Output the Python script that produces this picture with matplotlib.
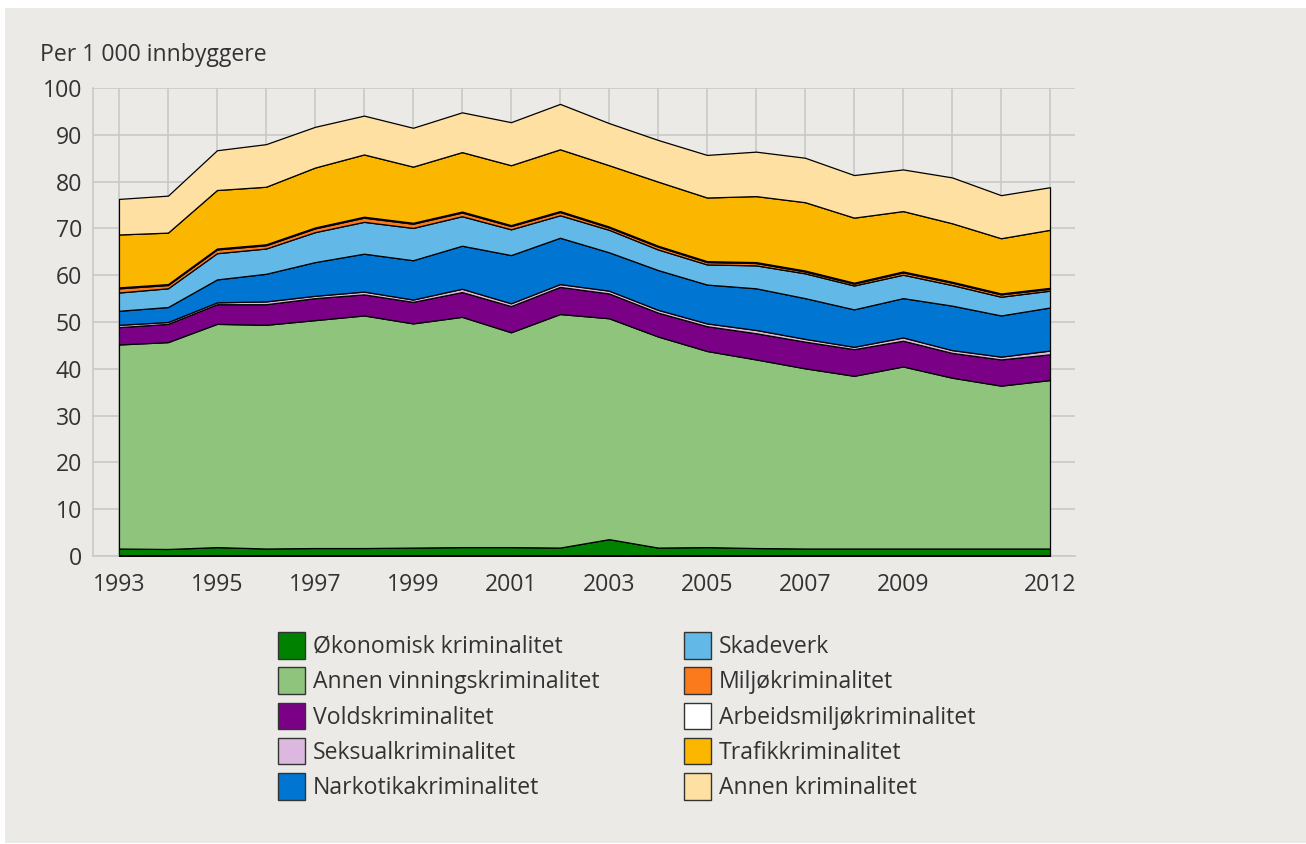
import matplotlib
matplotlib.use("Agg")
import matplotlib.pyplot as plt
from matplotlib.patches import Patch, Rectangle
import numpy as np

plt.rcParams["font.family"] = ["Open Sans", "DejaVu Sans"]

years = list(range(1993, 2013))

# verdier per 1 000 innbyggere, lest av figuren
okonomisk = [1.6, 1.5, 1.9, 1.6, 1.7, 1.7, 1.8, 1.9, 1.9, 1.8,
             3.6, 1.8, 1.9, 1.7, 1.6, 1.6, 1.6, 1.6, 1.6, 1.6]
annen_vinning = [43.6, 44.2, 47.7, 47.8, 48.7, 49.7, 47.9, 49.2, 45.9, 49.9,
                 47.2, 45.1, 41.9, 40.3, 38.5, 36.9, 38.9, 36.5, 34.8, 36.0]
vold = [3.7, 3.9, 4.2, 4.4, 4.7, 4.5, 4.6, 5.3, 5.6, 5.8,
        5.3, 5.1, 5.3, 5.6, 5.7, 5.7, 5.5, 5.3, 5.6, 5.5]
seksual = [0.5, 0.4, 0.4, 0.6, 0.5, 0.6, 0.5, 0.7, 0.6, 0.6,
           0.6, 0.6, 0.6, 0.7, 0.6, 0.5, 0.7, 0.6, 0.6, 0.8]
narkotika = [3.0, 3.2, 4.9, 5.9, 7.2, 8.1, 8.4, 9.2, 10.3, 9.9,
             8.2, 8.5, 8.3, 8.9, 8.7, 8.0, 8.4, 9.5, 8.8, 9.2]
skadeverk = [3.9, 4.0, 5.6, 5.4, 6.4, 6.8, 6.9, 6.3, 5.5, 4.8,
             4.8, 4.4, 4.3, 4.9, 5.3, 5.1, 5.0, 4.4, 4.0, 3.6]
miljo = [0.9, 0.7, 0.8, 0.7, 0.8, 0.9, 0.9, 0.8, 0.7, 0.7,
         0.5, 0.6, 0.5, 0.5, 0.4, 0.4, 0.5, 0.5, 0.5, 0.4]
arbeidsmiljo = [0.2, 0.2, 0.2, 0.2, 0.2, 0.2, 0.2, 0.2, 0.2, 0.2,
                0.2, 0.2, 0.2, 0.2, 0.2, 0.2, 0.2, 0.2, 0.2, 0.2]
trafikk = [11.3, 11.0, 12.5, 12.3, 12.8, 13.3, 12.0, 12.7, 12.8, 13.2,
           13.1, 13.7, 13.6, 14.1, 14.6, 13.9, 12.9, 12.5, 11.8, 12.4]
annen = [7.6, 7.9, 8.5, 9.1, 8.7, 8.3, 8.3, 8.5, 9.2, 9.7,
         9.0, 8.9, 9.1, 9.5, 9.5, 9.1, 8.9, 9.8, 9.2, 9.1]

labels = ["Økonomisk kriminalitet", "Annen vinningskriminalitet", "Voldskriminalitet",
          "Seksualkriminalitet", "Narkotikakriminalitet", "Skadeverk",
          "Miljøkriminalitet", "Arbeidsmiljøkriminalitet", "Trafikkriminalitet",
          "Annen kriminalitet"]
colors = ["#008200", "#8ec47c", "#7a0086", "#ddb8de", "#0075d2",
          "#62b9e8", "#fb7a1c", "#ffffff", "#fbb600", "#ffe0a3"]
series = [okonomisk, annen_vinning, vold, seksual, narkotika,
          skadeverk, miljo, arbeidsmiljo, trafikk, annen]

bg = "#ebeae6"
txt = "#333333"
grid = "#c9c9c9"
fs = 16.6

fig = plt.figure(figsize=(13.06, 8.44), dpi=100, facecolor="white")
fig.patches.append(Rectangle((5 / 1306, 1 / 844), 1 - 5 / 1306, 835 / 844,
                             transform=fig.transFigure, facecolor=bg,
                             edgecolor="none", zorder=-10))

ax = fig.add_axes([93 / 1306, 1 - 556 / 844, 982 / 1306, 468 / 844])
ax.set_facecolor(bg)

ax.stackplot(years, *series, colors=colors, edgecolor="black",
             linewidth=0.9, zorder=3)
ax.plot(years, np.zeros(len(years)), color="black", lw=2.2, zorder=4,
        solid_capstyle="butt")

ax.set_xlim(1992.47, 2012.51)
ax.set_ylim(0, 100)
ax.set_xticks([1993, 1995, 1997, 1999, 2001, 2003, 2005, 2007, 2009, 2012])
ax.set_xticks(years, minor=True)
ax.set_yticks(range(0, 101, 10))
ax.grid(True, which="both", color=grid, lw=1.2, zorder=0)
ax.set_axisbelow(True)

for s in ["top", "right"]:
    ax.spines[s].set_visible(False)
for s in ["left", "bottom"]:
    ax.spines[s].set_color(grid)
    ax.spines[s].set_linewidth(1.2)

ax.tick_params(which="both", length=0, labelsize=fs, colors=txt)
ax.tick_params(axis="y", pad=8)
ax.tick_params(axis="x", pad=12)

fig.text(40 / 1306, 1 - 55 / 844, "Per 1 000 innbyggere", fontsize=fs,
         color=txt, va="center", ha="left")

handles = [Patch(facecolor=c, edgecolor="#333333", linewidth=1) for c in colors]
fig.legend(handles, labels, ncol=2, loc="upper left",
           bbox_to_anchor=(278 / 1306, 1 - 632 / 844), frameon=False,
           fontsize=fs, labelcolor=txt, borderpad=0, borderaxespad=0,
           handlelength=1.17, handleheight=1.4, handletextpad=0.35,
           labelspacing=0.36, columnspacing=3.65)

fig.savefig("out.png", dpi=100, facecolor=fig.get_facecolor())
